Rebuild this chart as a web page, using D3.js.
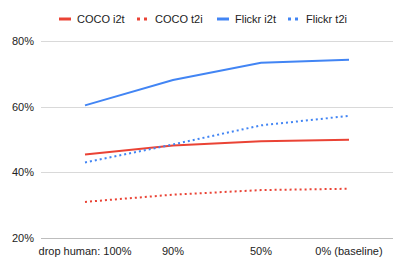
<!DOCTYPE html>
<html>
<head>
<meta charset="utf-8">
<script src="https://cdn.jsdelivr.net/npm/d3@7"></script>
<style>
  body { margin: 0; background: #fff; }
  text { font-family: "Liberation Sans", Arial, sans-serif; fill: #222; }
</style>
</head>
<body>
<div id="chart"></div>
<script>
const categories = ["drop human: 100%", "90%", "50%", "0% (baseline)"];
const cocoI2t = [45.4, 48.2, 49.5, 49.9];
const cocoT2i = [31.0, 33.2, 34.6, 35.0];
const flickrI2t = [60.4, 68.1, 73.4, 74.3];
const flickrT2i = [43.0, 48.5, 54.3, 57.2];
const yTicks = [20, 40, 60, 80];

const series = [
  { name: "COCO i2t", values: cocoI2t, color: "#ea4335", dash: null },
  { name: "COCO t2i", values: cocoT2i, color: "#ea4335", dash: "2,3" },
  { name: "Flickr i2t", values: flickrI2t, color: "#4285f4", dash: null },
  { name: "Flickr t2i", values: flickrT2i, color: "#4285f4", dash: "2,3" }
];

const width = 407, height = 270;
const margin = { top: 41, right: 14, bottom: 32, left: 41 };

const svg = d3.select("#chart").append("svg")
  .attr("width", width)
  .attr("height", height);

const x = d3.scalePoint()
  .domain(categories)
  .range([margin.left, width - margin.right])
  .padding(0.5);

const y = d3.scaleLinear()
  .domain([20, 80])
  .range([height - margin.bottom, margin.top]);

// gridlines
svg.append("g")
  .selectAll("line")
  .data(yTicks)
  .join("line")
  .attr("x1", margin.left)
  .attr("x2", width - margin.right)
  .attr("y1", d => Math.round(y(d)) + 0.5)
  .attr("y2", d => Math.round(y(d)) + 0.5)
  .attr("stroke", d => d === 20 ? "#bdbdbd" : "#d9d9d9")
  .attr("stroke-width", 1);

// y labels
svg.append("g")
  .selectAll("text")
  .data(yTicks)
  .join("text")
  .attr("x", margin.left - 7)
  .attr("y", d => y(d))
  .attr("dy", "0.35em")
  .attr("text-anchor", "end")
  .style("font-size", "11px")
  .text(d => d + "%");

// x labels
svg.append("g")
  .selectAll("text")
  .data(categories)
  .join("text")
  .attr("x", d => x(d))
  .attr("y", height - margin.bottom + 17)
  .attr("text-anchor", "middle")
  .style("font-size", "11px")
  .text(d => d);

const line = d3.line()
  .x((d, i) => x(categories[i]))
  .y(d => y(d));

svg.append("g")
  .selectAll("path")
  .data(series)
  .join("path")
  .attr("fill", "none")
  .attr("stroke", d => d.color)
  .attr("stroke-width", 2)
  .attr("stroke-dasharray", d => d.dash)
  .attr("d", d => line(d.values));

// legend
const legendX = [59, 137, 217, 288];
const legend = svg.append("g")
  .selectAll("g")
  .data(series)
  .join("g")
  .attr("transform", (d, i) => `translate(${legendX[i]},19)`);

legend.append("line")
  .attr("x1", 0)
  .attr("x2", 12)
  .attr("stroke", d => d.color)
  .attr("stroke-width", 3)
  .attr("stroke-dasharray", d => d.dash ? "3,4" : null);

legend.append("text")
  .attr("x", 18)
  .attr("dy", "0.35em")
  .style("font-size", "11px")
  .text(d => d.name);
</script>
</body>
</html>
